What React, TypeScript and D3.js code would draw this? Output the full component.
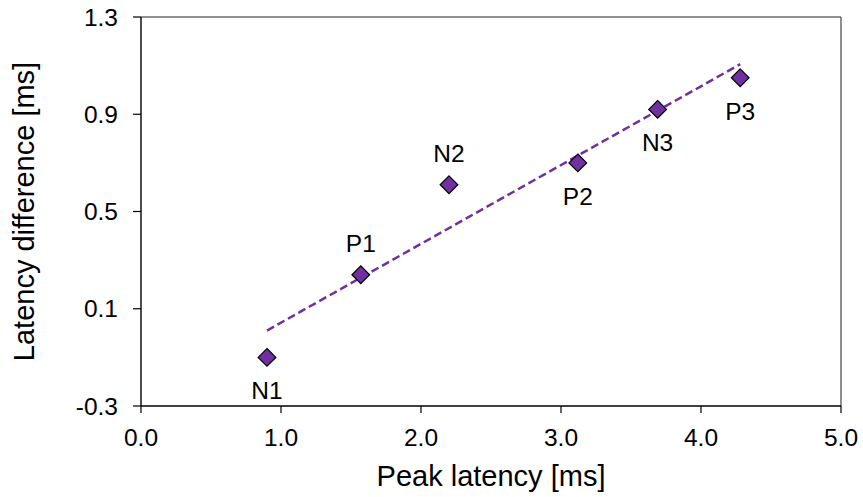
import React from "react";
import * as d3 from "d3";

const labels = ["N1", "P1", "N2", "P2", "N3", "P3"];
const peakLatency = [0.9, 1.57, 2.2, 3.12, 3.69, 4.28];
const latencyDiff = [-0.1, 0.24, 0.61, 0.7, 0.92, 1.05];
const labelSide = ["below", "above", "above", "below", "below", "below"];
const xTicks = [0, 1, 2, 3, 4, 5];
const yTicks = [-0.3, 0.1, 0.5, 0.9, 1.3];

const W = 863;
const H = 497;
const M = { left: 141, right: 22, top: 17, bottom: 91 };
const PURPLE = "#7030A0";
const FONT = "'Liberation Sans', Arial, sans-serif";

export default function App() {
  const x = d3.scaleLinear().domain([0, 5]).range([M.left, W - M.right]);
  const y = d3.scaleLinear().domain([-0.3, 1.3]).range([H - M.bottom, M.top]);

  // linear regression trend line
  const mx = d3.mean(peakLatency) as number;
  const my = d3.mean(latencyDiff) as number;
  let sxy = 0, sxx = 0;
  peakLatency.forEach((v, i) => {
    sxy += (v - mx) * (latencyDiff[i] - my);
    sxx += (v - mx) * (v - mx);
  });
  const slope = sxy / sxx;
  const icpt = my - slope * mx;
  const x0 = d3.min(peakLatency) as number;
  const x1 = d3.max(peakLatency) as number;
  const line = d3.line<number>().x((d) => x(d)).y((d) => y(icpt + slope * d));

  const diamond = d3.symbol().type(d3.symbolDiamond2).size(200)() as string;

  const x0p = x(0), x5p = x(5), yb = y(-0.3), yt = y(1.3);

  return (
    <svg width={W} height={H} style={{ position: "absolute", left: 0, top: 0, background: "#fff" }} fontFamily={FONT}>
      {/* frame */}
      <line x1={x0p} x2={x5p} y1={yt} y2={yt} stroke="#222" strokeWidth={1.2} />
      <line x1={x5p} x2={x5p} y1={yt} y2={yb} stroke="#444" strokeWidth={1.2} />
      {/* axes */}
      <line x1={x0p} x2={x5p} y1={yb} y2={yb} stroke="#000" strokeWidth={1.4} />
      <line x1={x0p} x2={x0p} y1={yt} y2={yb} stroke="#000" strokeWidth={1.4} />
      {xTicks.map((t) => (
        <g key={"x" + t}>
          <line x1={x(t)} x2={x(t)} y1={yb} y2={yb + 7} stroke="#000" strokeWidth={1.2} />
          <text x={x(t)} y={446} textAnchor="middle" fontSize={24.5} fill="#000">
            {t.toFixed(1)}
          </text>
        </g>
      ))}
      {yTicks.map((t) => (
        <g key={"y" + t}>
          <line x1={x0p - 8} x2={x0p} y1={y(t)} y2={y(t)} stroke="#000" strokeWidth={1.2} />
          <text x={118} y={y(t) + 8.7} textAnchor="end" fontSize={24.5} fill="#000">
            {t.toFixed(1)}
          </text>
        </g>
      ))}
      {/* trend line */}
      <path d={line([x0, x1]) as string} fill="none" stroke={PURPLE} strokeWidth={2.5} strokeDasharray="8,4" />
      {/* points */}
      {peakLatency.map((v, i) => (
        <g key={"p" + i}>
          <path d={diamond} transform={`translate(${x(v)},${y(latencyDiff[i])})`} fill={PURPLE} stroke="#000" strokeWidth={1.2} />
          <text
            x={x(v)}
            y={y(latencyDiff[i]) + (labelSide[i] === "above" ? -23 : 42)}
            textAnchor="middle"
            fontSize={24.5}
            fill="#000"
          >
            {labels[i]}
          </text>
        </g>
      ))}
      {/* axis titles */}
      <text x={(x0p + x5p) / 2} y={486} textAnchor="middle" fontSize={29} fill="#000">
        Peak latency [ms]
      </text>
      <text transform={`translate(34,${(yt + yb) / 2}) rotate(-90)`} textAnchor="middle" fontSize={29} fill="#000">
        Latency difference [ms]
      </text>
    </svg>
  );
}
